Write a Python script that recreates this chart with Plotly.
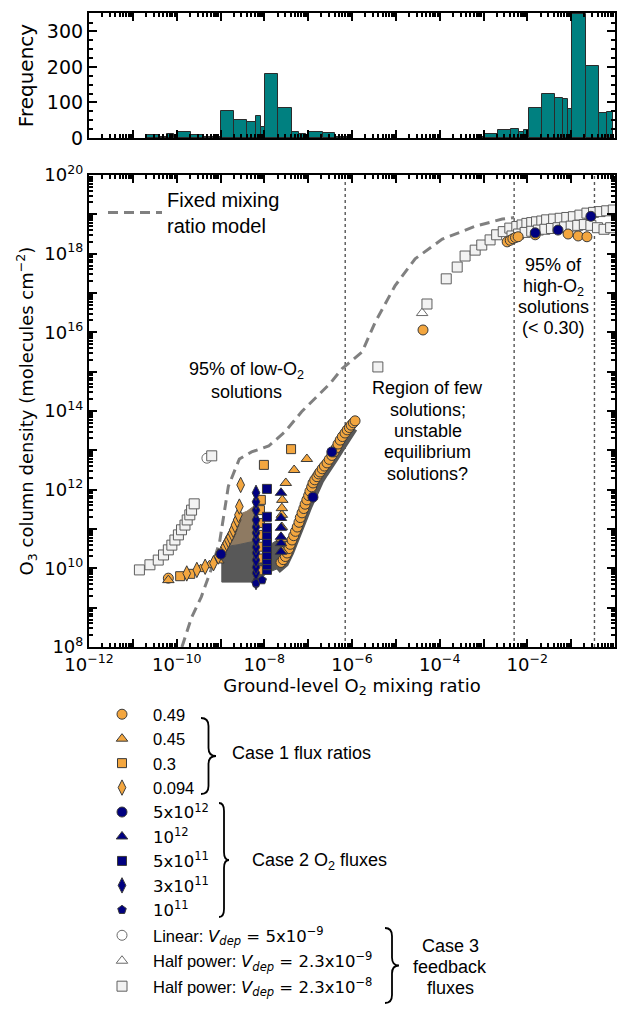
import numpy as np
import plotly.graph_objects as go

W, H = 630, 1013

# ---------------- histogram: ground-level O2 (log10 bin edges) ----------------
hist_bin_lo = [-10.69, -10.39, -10.21, -10.06, -9.99, -9.68, -9.38, -8.99, -8.69, -8.39,
               -8.20, -8.07, -7.98, -7.68, -7.38, -7.20, -7.06, -6.97, -6.67, -6.38,
               -3.07, -2.96, -2.66, -2.37, -2.18, -2.08, -1.97, -1.67, -1.37, -1.19,
               -1.07, -0.97, -0.67, -0.37, -0.18]
hist_bin_hi = [-10.39, -10.21, -10.06, -9.99, -9.68, -9.38, -8.99, -8.69, -8.39, -8.20,
               -8.07, -7.98, -7.68, -7.38, -7.20, -7.06, -6.97, -6.67, -6.38, -6.07,
               -2.96, -2.66, -2.37, -2.18, -2.08, -1.97, -1.67, -1.37, -1.19, -1.07,
               -0.97, -0.67, -0.37, -0.18, -0.05]
hist_counts = [8, 4, 10, 4, 17, 9, 3, 76, 50, 44,
               61, 30, 181, 84, 18, 11, 5, 17, 15, 4,
               3, 10, 23, 25, 16, 22, 84, 124, 112, 109,
               81, 348, 204, 70, 72]

# ---------------- fixed mixing ratio model (log10 values) ----------------
fixed_log_o2 = [-9.88, -9.66, -9.44, -9.22, -9.02, -8.82, -8.57, -8.29, -7.90, -7.53,
                -7.15, -6.85, -6.50, -6.23, -5.77, -5.47, -5.02, -4.56, -3.94, -3.18,
                -2.57, -2.30]
fixed_log_o3 = [8.00, 8.75, 9.27, 9.95, 10.67, 12.09, 12.78, 12.96, 13.11, 13.47,
                13.98, 14.31, 14.70, 15.07, 15.50, 16.26, 17.18, 17.87, 18.37, 18.70,
                18.88, 18.92]

# ---------------- Case 1 flux ratios (log10 O2, log10 O3) ----------------
c1_049_log_o2 = [-10.19,
                 -7.62, -7.57, -7.52, -7.48, -7.44, -7.41, -7.37, -7.33, -7.29, -7.25,
                 -7.21, -7.18, -7.14, -7.10, -7.07, -7.03, -6.99, -6.96, -6.92, -6.89,
                 -6.85, -6.80, -6.76, -6.73, -6.68, -6.63, -6.57, -6.52, -6.46, -6.41,
                 -6.36, -6.32, -6.27, -6.22, -6.16, -6.11, -6.06, -6.02, -5.97, -5.93,
                 -4.38, -2.46, -2.39, -2.33, -2.27, -2.21, -1.82, -1.07, -0.84, -0.64]
c1_049_log_o3 = [9.75,
                 10.15, 10.22, 10.30, 10.39, 10.50, 10.61, 10.72, 10.83, 10.94, 11.05,
                 11.17, 11.29, 11.41, 11.52, 11.63, 11.74, 11.85, 11.96, 12.07, 12.17,
                 12.25, 12.33, 12.40, 12.45, 12.53, 12.60, 12.68, 12.77, 12.87, 12.96,
                 13.06, 13.16, 13.26, 13.35, 13.44, 13.52, 13.58, 13.64, 13.70, 13.75,
                 16.06, 18.30, 18.34, 18.38, 18.41, 18.43, 18.48, 18.50, 18.45, 18.43]

c1_045_log_o2 = [-10.19, -9.45, -9.25, -9.05, -7.60, -7.60, -7.60, -7.60, -7.60, -7.59,
                 -7.51, -7.32, -7.03]
c1_045_log_o3 = [9.70, 9.98, 10.08, 10.20, 10.45, 10.75, 11.05, 11.36, 11.53, 11.74,
                 12.17, 12.50, 12.78]

c1_03_log_o2 = [-9.92, -9.69, -8.10, -8.10, -8.10, -8.10, -8.10, -8.10, -8.08, -8.01, -7.39]
c1_03_log_o3 = [9.80, 9.86, 9.95, 10.25, 10.55, 10.85, 11.15, 11.48, 11.74, 12.63, 13.03]

c1_0094_log_o2 = [-9.77, -9.54, -9.35, -9.16, -9.05, -8.94, -8.90, -8.86, -8.82, -8.78,
                  -8.74, -8.71, -8.67, -8.62, -8.59, -8.57, -8.54]
c1_0094_log_o3 = [9.87, 9.96, 10.04, 10.13, 10.30, 10.47, 10.55, 10.64, 10.72, 10.80,
                  10.89, 10.98, 11.10, 11.23, 11.36, 11.57, 12.12]

# outlines of the regions densely covered by overlapping low-O2 solutions
dense_upper_log_o2 = [-8.90, -8.80, -8.70, -8.60, -8.40, -8.19, -8.19, -8.60, -8.90]
dense_upper_log_o3 = [10.55, 10.78, 11.03, 11.36, 11.45, 11.62, 10.70, 10.60, 10.55]
dense_lower_log_o2 = [-8.97, -8.97, -8.90, -8.60, -8.19, -8.19, -8.97]
dense_lower_log_o3 = [9.65, 10.40, 10.55, 10.60, 10.70, 9.65, 9.65]
dense_right_log_o2 = [-8.19, -8.19, -7.94, -7.62, -7.50, -7.45, -7.57, -7.94, -8.19]
dense_right_log_o3 = [9.65, 10.10, 10.55, 10.78, 10.60, 10.30, 10.05, 9.88, 9.65]
dense_band_log_o2 = [-7.70, -7.52, -7.40, -7.30, -7.22, -7.14, -7.06, -6.98, -6.90, -6.82,
                     -6.72, -6.62, -6.50, -6.38, -6.27, -6.16, -6.05, -5.95]
dense_band_log_o3 = [9.95, 10.12, 10.40, 10.65, 10.88, 11.10, 11.35, 11.58, 11.80, 12.00,
                     12.22, 12.40, 12.58, 12.80, 13.00, 13.22, 13.40, 13.55]

# ---------------- Case 2 O2 fluxes ----------------
c2_5e12_log_o2 = [-8.99, -6.89, -6.46, -1.82, -1.30, -0.55]
c2_5e12_log_o3 = [10.36, 11.81, 12.96, 18.53, 18.60, 18.95]

c2_1e12_log_o2 = [-7.62, -7.62, -7.62, -7.62, -7.62, -7.62]
c2_1e12_log_o3 = [10.42, 10.64, 10.80, 11.03, 11.28, 11.92]

c2_5e11_log_o2 = [-7.94, -7.94, -7.94, -7.94, -7.94, -7.94, -7.94, -7.94, -7.94, -7.94]
c2_5e11_log_o3 = [9.96, 10.08, 10.21, 10.34, 10.52, 10.67, 10.85, 11.03, 11.31, 12.02]

c2_3e11_log_o2 = [-8.19, -8.19, -8.19, -8.19, -8.19, -8.19, -8.19, -8.19, -8.19, -8.19,
                  -8.19, -8.19, -8.19]
c2_3e11_log_o3 = [9.65, 9.88, 10.03, 10.21, 10.39, 10.54, 10.72, 10.90, 11.05, 11.23,
                  11.48, 11.69, 11.92]

c2_1e11_log_o2 = [-8.19, -8.05]
c2_1e11_log_o3 = [9.62, 9.70]

# ---------------- Case 3 feedback fluxes ----------------
c3_lin_log_o2 = [-9.31]
c3_lin_log_o3 = [12.80]

c3_half9_log_o2 = [-4.40]
c3_half9_log_o3 = [16.49]

c3_half8_log_o2 = [-10.85, -10.61, -10.42, -10.30, -10.19, -10.11, -10.04, -9.96, -9.89, -9.81,
                   -9.76, -9.70, -9.66, -9.60, -9.20,
                   -5.41, -4.29, -3.85, -3.60, -3.42, -3.19, -3.04, -2.85, -2.70, -2.55,
                   -2.40, -2.24, -2.12, -2.01, -1.90, -1.79, -1.67, -1.56, -1.40, -1.25,
                   -1.10, -0.95, -0.80, -0.64, -0.49, -0.34, -0.19, -0.04,
                   -2.35, -2.20, -2.05, -1.90, -1.75, -1.60, -1.45, -1.30, -1.15, -1.00,
                   -0.85, -0.70, -0.55, -0.40, -0.25, -0.10]
c3_half8_log_o3 = [9.96, 10.09, 10.21, 10.34, 10.47, 10.59, 10.72, 10.85, 10.98, 11.10,
                   11.23, 11.36, 11.48, 11.64, 12.86,
                   15.12, 16.72, 17.36, 17.66, 17.94, 18.09, 18.22, 18.35, 18.48, 18.56,
                   18.65, 18.69, 18.73, 18.77, 18.79, 18.81, 18.83, 18.86, 18.88, 18.90,
                   18.92, 18.94, 18.98, 19.03, 19.05, 19.07, 19.09, 19.11,
                   18.45, 18.50, 18.54, 18.57, 18.60, 18.62, 18.64, 18.66, 18.68, 18.70,
                   18.72, 18.74, 18.72, 18.66, 18.62, 18.66]

# dotted boundaries (O2 mixing ratio)
boundary_o2 = [7.0e-7, 5.0e-3, 0.34]

# ---------------- styling ----------------
ORANGE = '#F3A63F'
NAVY = '#000080'
EDGE = '#3A3A3A'
DENSE = '#585858'
DENSE_WARM = '#8E7A62'
TEAL = '#008080'
SANS = 'Liberation Sans, Arial, sans-serif'
DJV = 'DejaVu Sans, sans-serif'


def lin(v):
    return [10 ** a for a in v]


def math(s):
    return '<span style="font-family:DejaVu Sans">' + s + '</span>'


fig = go.Figure()

# histogram
centers = [(a + b) / 2 for a, b in zip(hist_bin_lo, hist_bin_hi)]
widths = [b - a for a, b in zip(hist_bin_lo, hist_bin_hi)]
fig.add_trace(go.Bar(x=centers, y=hist_counts, width=widths, xaxis='x', yaxis='y',
                     textposition='none',
                     marker=dict(color=TEAL, line=dict(color='#2B2B2B', width=1)),
                     showlegend=False, hoverinfo='skip'))

# dotted boundaries
for b in boundary_o2:
    fig.add_trace(go.Scatter(x=[b, b], y=[1e8, 1e20], mode='lines', xaxis='x2', yaxis='y2',
                             line=dict(color='#555555', width=1.4, dash='dot'),
                             showlegend=False, hoverinfo='skip'))

# fixed mixing ratio model
fig.add_trace(go.Scatter(x=lin(fixed_log_o2), y=lin(fixed_log_o3), mode='lines',
                         xaxis='x2', yaxis='y2', name='Fixed mixing<br>ratio model',
                         line=dict(color='#808080', width=3, dash='10px,6px'),
                         legend='legend2'))

# dense grey regions
for lx, ly, col in [(dense_upper_log_o2, dense_upper_log_o3, DENSE_WARM),
                    (dense_lower_log_o2, dense_lower_log_o3, DENSE),
                    (dense_right_log_o2, dense_right_log_o3, DENSE)]:
    fig.add_trace(go.Scatter(x=lin(lx), y=lin(ly), mode='lines', fill='toself', fillcolor=col,
                             xaxis='x2', yaxis='y2', line=dict(color=col, width=1),
                             showlegend=False, hoverinfo='skip'))
fig.add_trace(go.Scatter(x=lin(dense_band_log_o2), y=lin(dense_band_log_o3), mode='lines',
                         xaxis='x2', yaxis='y2', line=dict(color=DENSE, width=7),
                         showlegend=False, hoverinfo='skip'))


def series(name, lx, ly, symbol, fill, edge, size, group, rank):
    return go.Scatter(x=lin(lx), y=lin(ly), mode='markers', name=name,
                      xaxis='x2', yaxis='y2', legendgroup=group, legend='legend', legendrank=rank,
                      marker=dict(symbol=symbol, color=fill, size=size,
                                  line=dict(color=edge, width=1)))


# case 3 drawn first (underneath), then case 1, then case 2
fig.add_trace(series('Linear: ' + math('<i>V<sub>dep</sub></i> = 5x10<sup>−9</sup>'),
                     c3_lin_log_o2, c3_lin_log_o3, 'circle', '#FFFFFF', '#6A6A6A', 10, 'g2', 10))
fig.add_trace(series('Half power: ' + math('<i>V<sub>dep</sub></i> = 2.3x10<sup>−9</sup>'),
                     c3_half9_log_o2, c3_half9_log_o3, 'triangle-up', '#FFFFFF', '#6A6A6A', 10, 'g3', 11))
fig.add_trace(series('Half power: ' + math('<i>V<sub>dep</sub></i> = 2.3x10<sup>−8</sup>'),
                     c3_half8_log_o2, c3_half8_log_o3, 'square', '#F2F2F2', '#5E5E5E', 10, 'g4', 12))
fig.add_trace(series('0.49', c1_049_log_o2, c1_049_log_o3, 'circle', ORANGE, EDGE, 10, 'g1', 1))
fig.add_trace(series('0.45', c1_045_log_o2, c1_045_log_o3, 'triangle-up', ORANGE, EDGE, 10, 'g1', 2))
fig.add_trace(series('0.3', c1_03_log_o2, c1_03_log_o3, 'square', ORANGE, EDGE, 9, 'g1', 3))
fig.add_trace(series('0.094', c1_0094_log_o2, c1_0094_log_o3, 'diamond-tall', ORANGE, EDGE, 11, 'g1', 4))
fig.add_trace(series(math('5x10<sup>12</sup>'), c2_5e12_log_o2, c2_5e12_log_o3, 'circle', NAVY, EDGE, 10, 'g1', 5))
fig.add_trace(series(math('10<sup>12</sup>'), c2_1e12_log_o2, c2_1e12_log_o3, 'triangle-up', NAVY, EDGE, 10, 'g1', 6))
fig.add_trace(series(math('5x10<sup>11</sup>'), c2_5e11_log_o2, c2_5e11_log_o3, 'square', NAVY, EDGE, 9, 'g1', 7))
fig.add_trace(series(math('3x10<sup>11</sup>'), c2_3e11_log_o2, c2_3e11_log_o3, 'diamond-tall', NAVY, EDGE, 11, 'g1', 8))
fig.add_trace(series(math('10<sup>11</sup>'), c2_1e11_log_o2, c2_1e11_log_o3, 'pentagon', NAVY, EDGE, 9, 'g1', 9))

# invisible trace so that the overlay tick axes exist
fig.add_trace(go.Scatter(x=[None], y=[None], xaxis='x3', yaxis='y3', showlegend=False, hoverinfo='skip'))


# ---------------- layout ----------------
def px_x(p):
    return p / W


def px_y(p):
    return 1 - p / H


XL, XR = 89, 615
hist_minor = [n + np.log10(k) for n in range(-12, 0) for k in range(2, 10)]
main_minor_x = [k * 10.0 ** n for n in range(-12, 0) for k in range(2, 10)]
main_minor_y = [k * 10.0 ** n for n in range(8, 20) for k in range(2, 10)]
even_x = list(range(-12, 1, 2))
odd_x = list(range(-11, 0, 2))
even_y = list(range(8, 21, 2))
odd_y = list(range(9, 20, 2))

axis_common = dict(showline=True, linewidth=2.2, linecolor='black', mirror='allticks',
                   ticks='inside', ticklen=8, tickwidth=2.2, tickcolor='black',
                   showgrid=False, zeroline=False, automargin=False)
minor_common = dict(ticks='inside', ticklen=4, tickwidth=1.5, tickcolor='black')

fig.update_layout(
    width=W, height=H, margin=dict(l=0, r=0, t=0, b=0, autoexpand=False),
    paper_bgcolor='white', plot_bgcolor='white', bargap=0,
    xaxis=dict(domain=[px_x(XL), px_x(XR)], anchor='y', range=[-12, 0],
               tickvals=list(range(-12, 1)), showticklabels=False,
               minor=dict(tickvals=hist_minor, **minor_common),
               **axis_common),
    yaxis=dict(domain=[px_y(138), px_y(13)], anchor='x', range=[0, 352],
               tickvals=[0, 100, 200, 300],
               minor=dict(dtick=25, **minor_common),
               tickfont=dict(family=DJV, size=19, color='black'),
               title=dict(text='Frequency', font=dict(family=DJV, size=20, color='black'), standoff=8),
               **axis_common),
    xaxis2=dict(domain=[px_x(XL), px_x(XR)], anchor='y2', type='log', range=[-12, 0],
                tickvals=[10.0 ** k for k in even_x],
                ticktext=['10<sup>%s</sup>' % str(k).replace('-', '−') for k in even_x],
                minor=dict(tickvals=main_minor_x, **minor_common),
                tickfont=dict(family=DJV, size=18, color='black'),
                title=dict(text='Ground-level O<sub>2</sub> mixing ratio',
                           font=dict(family=DJV, size=18, color='black'), standoff=4),
                **axis_common),
    yaxis2=dict(domain=[px_y(647), px_y(175)], anchor='x2', type='log', range=[8, 20],
                tickvals=[10.0 ** k for k in even_y],
                ticktext=['10<sup>%d</sup>' % k for k in even_y],
                minor=dict(tickvals=main_minor_y, **minor_common),
                tickfont=dict(family=DJV, size=18, color='black'),
                title=dict(text='O<sub>3</sub> column density (molecules cm<sup>−2</sup>)',
                           font=dict(family=DJV, size=18, color='black'), standoff=6),
                **axis_common),
    # unlabelled major ticks at the odd decades
    xaxis3=dict(domain=[px_x(XL), px_x(XR)], anchor='y2', overlaying='x2', type='log', range=[-12, 0],
                tickvals=[10.0 ** k for k in odd_x], showticklabels=False, **axis_common),
    yaxis3=dict(domain=[px_y(647), px_y(175)], anchor='x2', overlaying='y2', type='log', range=[8, 20],
                tickvals=[10.0 ** k for k in odd_y], showticklabels=False, **axis_common),
    legend=dict(x=px_x(91), y=px_y(697), xanchor='left', yanchor='top',
                bgcolor='rgba(0,0,0,0)', borderwidth=0, itemwidth=52,
                traceorder='grouped', tracegroupgap=1,
                font=dict(family=SANS, size=16.5, color='black')),
    legend2=dict(x=px_x(103), y=px_y(180), xanchor='left', yanchor='top',
                 bgcolor='rgba(0,0,0,0)', borderwidth=0, itemwidth=54,
                 font=dict(family=SANS, size=20, color='black')),
)

# annotations inside main panel (one per text line, log10 coordinates on log axes)
text_lines = [
    ('95% of low-O<sub>2</sub>', -8.40, 15.02),
    ('solutions', -8.40, 14.48),
    ('Region of few', -4.27, 14.585),
    ('solutions;', -4.27, 14.03),
    ('unstable', -4.27, 13.49),
    ('equilibrium', -4.27, 12.96),
    ('solutions?', -4.27, 12.40),
    ('95% of', -1.41, 17.71),
    ('high-O<sub>2</sub>', -1.41, 17.15),
    ('solutions', -1.41, 16.645),
    ('(< 0.30)', -1.41, 16.11),
]
annos = []
for t, xl, yl in text_lines:
    annos.append(dict(text=t, x=xl, y=yl, xref='x2', yref='y2', showarrow=False,
                      xanchor='center', yanchor='middle',
                      font=dict(family=SANS, size=18, color='black')))

# legend group labels
annos.append(dict(text='Case 1 flux ratios', x=px_x(230), y=px_y(753), xref='paper', yref='paper',
                  showarrow=False, xanchor='left', yanchor='middle', font=dict(family=SANS, size=18, color='black')))
annos.append(dict(text='Case 2 O<sub>2</sub> fluxes', x=px_x(250), y=px_y(861), xref='paper', yref='paper',
                  showarrow=False, xanchor='left', yanchor='middle', font=dict(family=SANS, size=18, color='black')))
for t, yy in [('Case 3', 946), ('feedback', 967), ('fluxes', 988)]:
    annos.append(dict(text=t, x=px_x(450), y=px_y(yy), xref='paper', yref='paper',
                      showarrow=False, xanchor='center', yanchor='middle',
                      font=dict(family=SANS, size=18, color='black')))
fig.update_layout(annotations=annos)


def brace(x0, y0, y1, w):
    ym = (y0 + y1) / 2
    r = min(8, (y1 - y0) / 6)
    xm = x0 + w / 2
    pts = [('M', (x0, y0)), ('Q', (xm, y0), (xm, y0 + r)), ('L', (xm, ym - r)),
           ('Q', (xm, ym), (x0 + w, ym)), ('Q', (xm, ym), (xm, ym + r)), ('L', (xm, y1 - r)),
           ('Q', (xm, y1), (x0, y1))]
    s = ''
    for p in pts:
        s += p[0] + ' ' + ' '.join('%.5f,%.5f' % (px_x(a), px_y(b)) for a, b in p[1:]) + ' '
    return dict(type='path', path=s.strip(), xref='paper', yref='paper',
                line=dict(color='black', width=1.8))


fig.update_layout(shapes=[brace(201, 718, 794, 15), brace(219, 803, 917, 10), brace(385, 928, 1003, 14)])

fig.write_html('out.html', config={'displayModeBar': False},
               post_script="document.body.style.margin='0';")
